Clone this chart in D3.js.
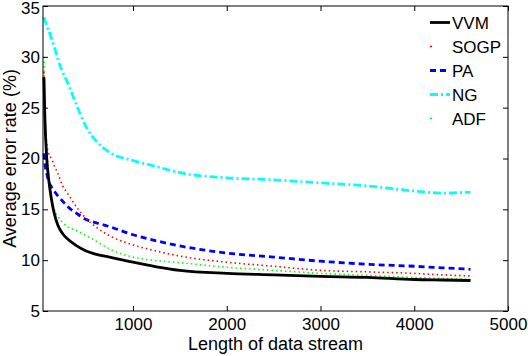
<!DOCTYPE html>
<html>
<head>
<meta charset="utf-8">
<script src="https://cdn.jsdelivr.net/npm/d3@7"></script>
<style>
  body { margin: 0; background: #fff; }
  svg text { font-family: "Liberation Sans", Arial, sans-serif; }
</style>
</head>
<body>
<svg id="chart" width="528" height="356"></svg>
<script>
// values
var streamLen = [50, 60, 80, 100, 130, 160, 200, 250, 300, 400, 500, 600, 750, 1000, 1250, 1500, 2000, 2500, 3000, 3500, 4000, 4300, 4600];

var vvm  = [28.0, 24.0, 20.0, 18.0, 16.0, 14.6, 13.4, 12.6, 12.1, 11.4, 10.9, 10.6, 10.3, 9.8, 9.35, 9.0, 8.7, 8.55, 8.4, 8.3, 8.1, 8.05, 8.0];
var sogp = [28.5, 24.0, 21.5, 20.5, 20.0, 19.3, 18.5, 17.3, 16.6, 15.2, 14.1, 13.3, 12.4, 11.5, 10.9, 10.4, 9.8, 9.4, 9.0, 8.85, 8.7, 8.55, 8.45];
var pa   = [20.5, 19.5, 18.5, 17.8, 17.2, 16.8, 16.3, 15.8, 15.3, 14.6, 14.0, 13.7, 13.3, 12.5, 11.9, 11.4, 10.7, 10.3, 9.9, 9.6, 9.4, 9.25, 9.1];
var ng   = [33.9, 33.6, 33.0, 32.6, 31.8, 31.0, 29.7, 28.5, 27.5, 25.2, 23.1, 21.8, 20.6, 19.8, 19.2, 18.6, 18.1, 17.9, 17.6, 17.3, 16.8, 16.6, 16.7];
var adf  = [30.0, 25.0, 21.0, 18.5, 16.2, 15.0, 14.3, 13.7, 13.3, 12.9, 12.4, 11.9, 11.1, 10.3, 9.95, 9.75, 9.3, 9.0, 8.7, 8.5, 8.3, 8.2, 8.1];

var seriesNames = ["VVM", "SOGP", "PA", "NG", "ADF"];
var xTicks = [1000, 2000, 3000, 4000, 5000];
var yTicks = [5, 10, 15, 20, 25, 30, 35];

var styles = {
  VVM:  { color: "#000000", width: 2.8, dash: null },
  SOGP: { color: "#ff0000", width: 1.6, dash: "1.5,3" },
  PA:   { color: "#0000ff", width: 2.8, dash: "6,4" },
  NG:   { color: "#00ffff", width: 2.8, dash: "8,3,2,3" },
  ADF:  { color: "#00ff00", width: 1.6, dash: "1.5,3" }
};

var allSeries = [vvm, sogp, pa, ng, adf];

var svg = d3.select("#chart");
var margin = { left: 43, right: 20, top: 6, bottom: 45 };
var W = 528, H = 356;

var x = d3.scaleLinear().domain([40, 5000]).range([margin.left, W - margin.right]);
var y = d3.scaleLinear().domain([5, 35]).range([H - margin.bottom, margin.top]);

// lines
var line = d3.line()
  .x(function(d){ return x(d[0]); })
  .y(function(d){ return y(d[1]); })
  .curve(d3.curveMonotoneX);

var plot = svg.append("g");
// draw in reverse so black ends on top
for (var i = seriesNames.length - 1; i >= 0; i--) {
  var name = seriesNames[i];
  var st = styles[name];
  var pts = streamLen.map(function(v, j){ return [v, allSeries[i][j]]; });
  plot.append("path")
    .datum(pts)
    .attr("fill", "none")
    .attr("stroke", st.color)
    .attr("stroke-width", st.width)
    .attr("stroke-dasharray", st.dash)
    .attr("d", line);
}

// axes box
var tickLen = 5;
svg.append("g")
  .attr("transform", "translate(0," + y(5) + ")")
  .call(d3.axisBottom(x).tickValues(xTicks).tickSize(-tickLen).tickPadding(7).tickFormat(d3.format("d")))
  .call(function(g){
    g.select(".domain").remove();
    g.selectAll("text").attr("font-size", 17).attr("fill", "#000");
  });
svg.append("g")
  .attr("transform", "translate(0," + y(35) + ")")
  .call(d3.axisTop(x).tickValues(xTicks).tickSize(-tickLen).tickFormat(""))
  .call(function(g){ g.select(".domain").remove(); });
svg.append("g")
  .attr("transform", "translate(" + x(40) + ",0)")
  .call(d3.axisLeft(y).tickValues(yTicks).tickSize(-tickLen).tickPadding(3))
  .call(function(g){
    g.select(".domain").remove();
    g.selectAll("text").attr("font-size", 17).attr("fill", "#000");
    // keep the top label inside the picture
    g.selectAll(".tick text").filter(function(d){ return d === 35; }).attr("dy", "0.42em");
  });
svg.append("g")
  .attr("transform", "translate(" + x(5000) + ",0)")
  .call(d3.axisRight(y).tickValues(yTicks).tickSize(-tickLen).tickFormat(""))
  .call(function(g){ g.select(".domain").remove(); });

svg.append("rect")
  .attr("x", x(40)).attr("y", y(35))
  .attr("width", x(5000) - x(40)).attr("height", y(5) - y(35))
  .attr("fill", "none").attr("stroke", "#000").attr("stroke-width", 1);

// labels
svg.append("text")
  .attr("x", (x(40) + x(5000)) / 2).attr("y", 350)
  .attr("text-anchor", "middle").attr("font-size", 18)
  .text("Length of data stream");
svg.append("text")
  .attr("transform", "translate(16," + (y(35) + y(5)) / 2 + ") rotate(-90)")
  .attr("text-anchor", "middle").attr("font-size", 18)
  .text("Average error rate (%)");

// legend
var legend = svg.append("g");
seriesNames.forEach(function(name, i){
  var st = styles[name];
  var ly = 22.5 + i * 24;
  legend.append("line")
    .attr("x1", 430).attr("x2", 450).attr("y1", ly).attr("y2", ly)
    .attr("stroke", st.color).attr("stroke-width", st.width)
    .attr("stroke-dasharray", st.dash ? (st.width < 2 ? "2,40" : st.dash) : null);
  legend.append("text")
    .attr("x", 452).attr("y", ly + 6)
    .attr("font-size", 17)
    .text(name);
});
</script>
</body>
</html>
